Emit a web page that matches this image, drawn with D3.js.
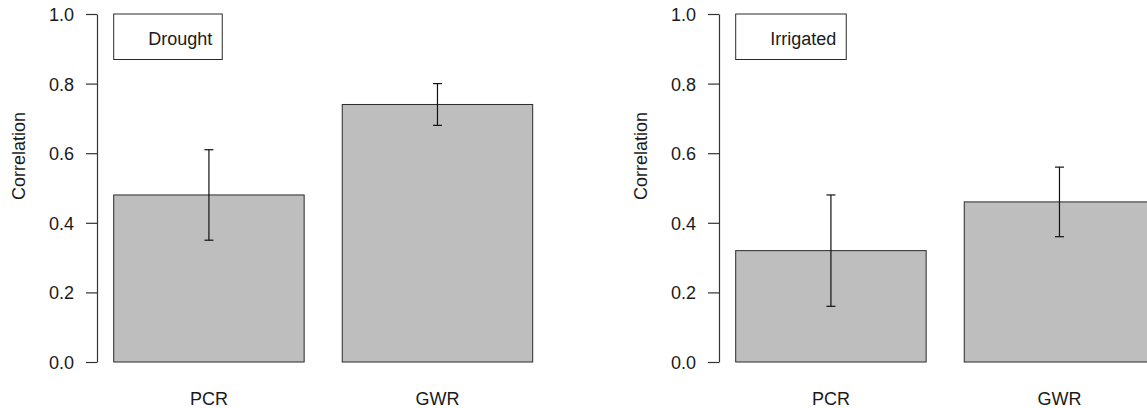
<!DOCTYPE html>
<html>
<head>
<meta charset="utf-8">
<script src="https://cdn.jsdelivr.net/npm/d3@7"></script>
<style>
  html, body { margin: 0; padding: 0; background: #fff; }
  svg { display: block; font-family: "Liberation Sans", Arial, sans-serif; }
</style>
</head>
<body>
<svg id="chart" width="1147" height="408"></svg>
<script>
// ---- data ----
const categories = ["PCR", "GWR"];
const panelNames = ["Drought", "Irrigated"];
const droughtValues = [0.48, 0.74];
const droughtErrors = [0.13, 0.06];
const irrigatedValues = [0.32, 0.46];
const irrigatedErrors = [0.16, 0.10];
const yTicks = [0.0, 0.2, 0.4, 0.6, 0.8, 1.0];
const yLabel = "Correlation";

const panels = [
  { name: panelNames[0], values: droughtValues, errors: droughtErrors, offset: 0 },
  { name: panelNames[1], values: irrigatedValues, errors: irrigatedErrors, offset: 622 }
];

const svg = d3.select("#chart");
const textColor = "#1a1a1a";
const fontSize = 18;

const y = d3.scaleLinear().domain([0, 1]).range([362, 14]);
const axisX = 97;

panels.forEach(p => {
  const g = svg.append("g").attr("transform", `translate(${p.offset},0)`);

  const x = d3.scaleBand()
    .domain(categories)
    .range([113.7, 532.7])
    .paddingInner(0.2 / 1.2)
    .paddingOuter(0);

  // bars
  g.selectAll("rect.bar")
    .data(categories.map((c, i) => ({ c, v: p.values[i], e: p.errors[i] })))
    .join("rect")
    .attr("class", "bar")
    .attr("x", d => x(d.c))
    .attr("y", d => y(d.v))
    .attr("width", x.bandwidth())
    .attr("height", d => y(0) - y(d.v))
    .attr("fill", "#bebebe")
    .attr("stroke", "#2a2a2a")
    .attr("stroke-width", 1);

  // error bars
  const eb = g.selectAll("g.err")
    .data(categories.map((c, i) => ({ c, v: p.values[i], e: p.errors[i] })))
    .join("g").attr("class", "err");
  eb.append("line")
    .attr("x1", d => x(d.c) + x.bandwidth() / 2)
    .attr("x2", d => x(d.c) + x.bandwidth() / 2)
    .attr("y1", d => y(d.v + d.e))
    .attr("y2", d => y(d.v - d.e))
    .attr("stroke", "#111").attr("stroke-width", 1.2);
  [1, -1].forEach(s => {
    eb.append("line")
      .attr("x1", d => x(d.c) + x.bandwidth() / 2 - 4.5)
      .attr("x2", d => x(d.c) + x.bandwidth() / 2 + 4.5)
      .attr("y1", d => y(d.v + s * d.e))
      .attr("y2", d => y(d.v + s * d.e))
      .attr("stroke", "#111").attr("stroke-width", 1.2);
  });

  // y axis
  const ax = g.append("g")
    .attr("transform", `translate(${axisX},0)`)
    .call(d3.axisLeft(y).tickValues(yTicks).tickFormat(d3.format(".1f"))
      .tickSize(11).tickSizeOuter(0).tickPadding(12));
  ax.select(".domain").attr("stroke", "#333").attr("stroke-width", 1.2);
  ax.selectAll(".tick line").attr("stroke", "#333").attr("stroke-width", 1.2);
  ax.selectAll(".tick text")
    .attr("font-size", fontSize)
    .attr("font-family", "Liberation Sans, Arial, sans-serif")
    .attr("fill", textColor)
    .attr("dy", "0.36em");

  // x labels
  g.selectAll("text.xl")
    .data(categories)
    .join("text")
    .attr("class", "xl")
    .attr("x", d => x(d) + x.bandwidth() / 2)
    .attr("y", 405)
    .attr("text-anchor", "middle")
    .attr("font-size", fontSize)
    .attr("fill", textColor)
    .text(d => d);

  // y label
  g.append("text")
    .attr("transform", `translate(25,156) rotate(-90)`)
    .attr("text-anchor", "middle")
    .attr("font-size", fontSize)
    .attr("fill", textColor)
    .text(yLabel);

  // legend
  const lx = x(categories[0]);
  const box = g.append("rect")
    .attr("x", lx).attr("y", y(1))
    .attr("height", 45.5)
    .attr("fill", "#fff")
    .attr("stroke", "#2a2a2a").attr("stroke-width", 1);
  const lt = g.append("text")
    .attr("x", lx + 34.5)
    .attr("y", 44.5)
    .attr("font-size", fontSize)
    .attr("fill", textColor)
    .text(p.name);
  const tw = lt.node().getComputedTextLength();
  box.attr("width", tw + 44.5);
});
</script>
</body>
</html>
